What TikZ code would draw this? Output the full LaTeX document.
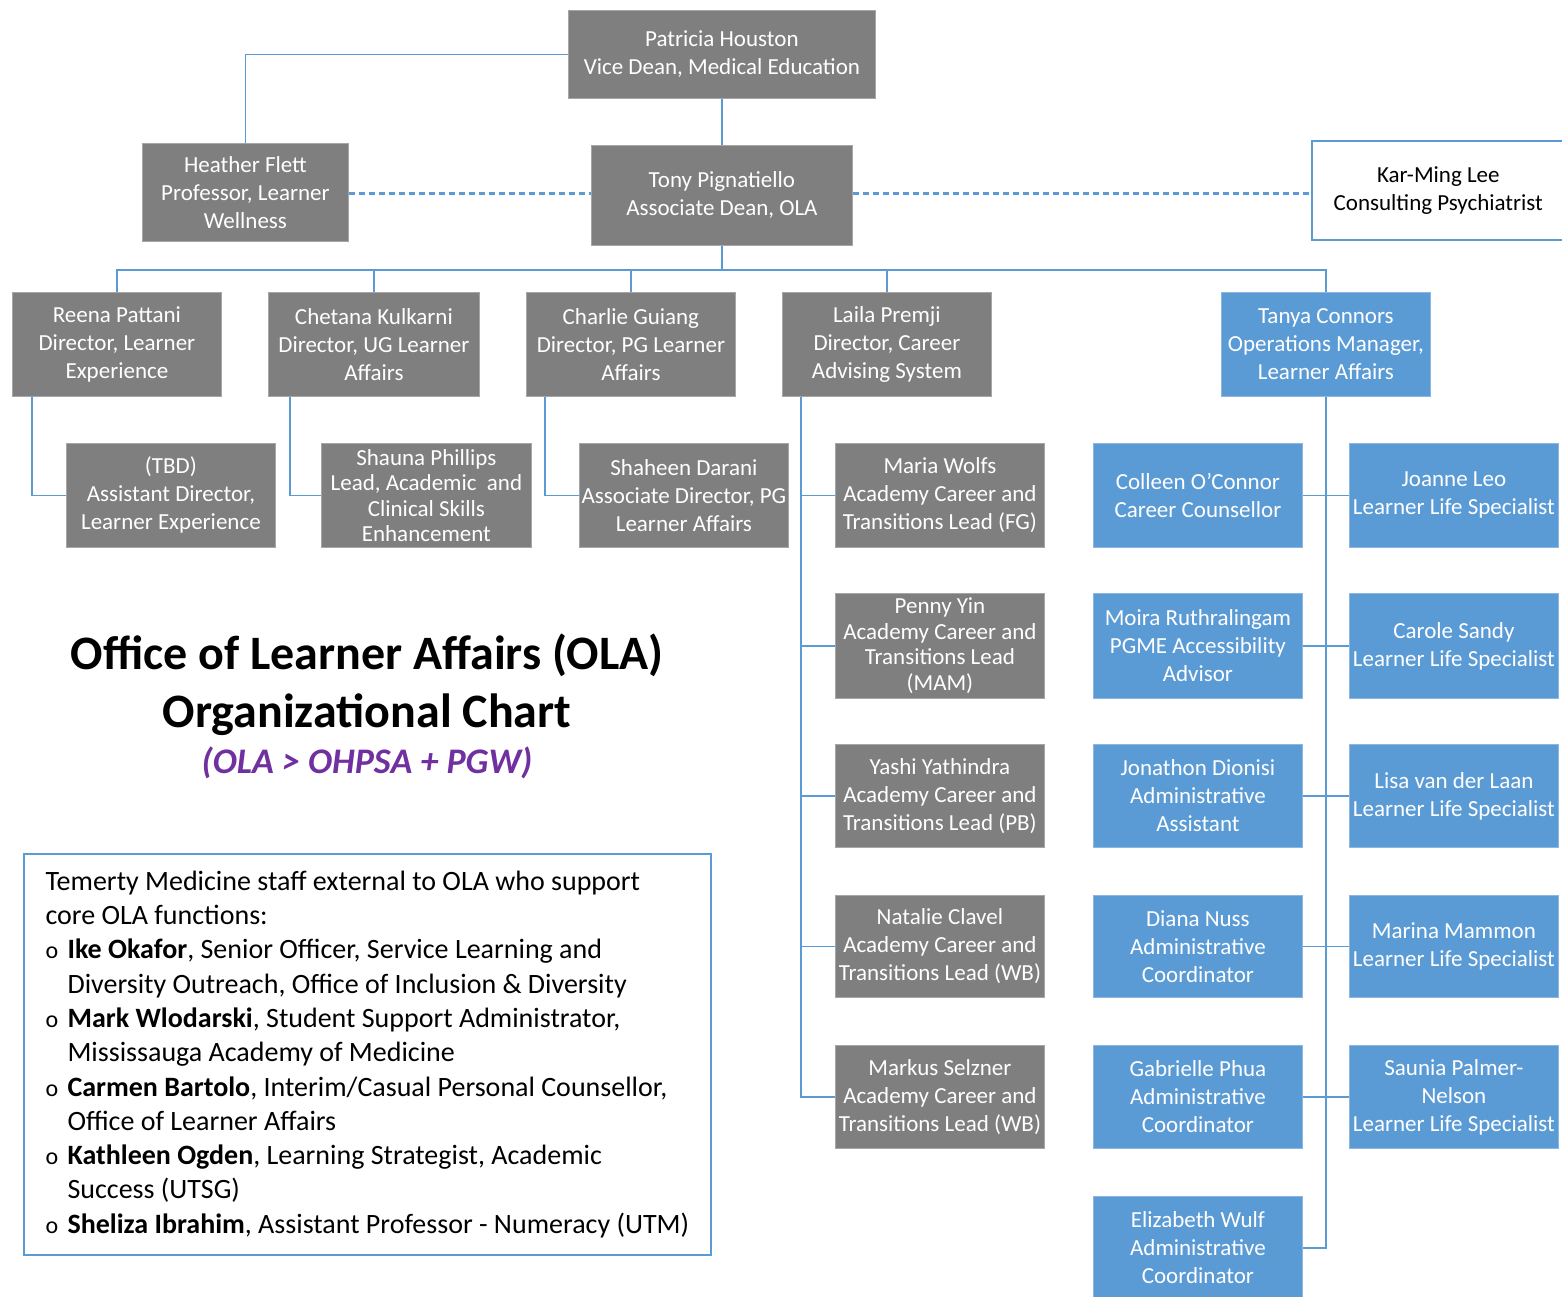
\documentclass[tikz,border=0pt]{standalone}
\usepackage{fontspec}
\setmainfont{Carlito}
\usetikzlibrary{calc}
\definecolor{gfill}{HTML}{7F7F7F}
\definecolor{gline}{HTML}{A6A6A6}
\definecolor{bfill}{HTML}{5B9BD5}
\definecolor{bline}{HTML}{8DB6E0}
\definecolor{conn}{HTML}{5B9BD5}
\definecolor{purp}{HTML}{7030A0}
\newcommand\bxfont{\fontsize{23}{28}\selectfont}
\newcommand\bxfontt{\fontsize{23}{25.5}\selectfont}
\newcommand\bul{\makebox[22pt][l]{\fontsize{24}{24}\selectfont o}}
\newcommand\ind{\hspace*{22pt}}
\begin{document}
\begin{tikzpicture}[x=1pt,y=-1pt,
  box/.style={anchor=north west, inner sep=0pt, align=center, font=\bxfont,
     minimum width=209pt, minimum height=104pt, line width=0.8pt},
  gbox/.style={box, fill=gfill, draw=gline, text=white},
  bbox/.style={box, fill=bfill, draw=bline, text=white},
  link/.style={draw=conn, line width=1.8pt},
  dlink/.style={draw=conn, line width=2.2pt, dash pattern=on 6pt off 4pt}]
\useasboundingbox (0,0) rectangle (1562,1296);

% top
\node[gbox, minimum width=307pt, minimum height=88pt] (patricia) at (568,10) {Patricia Houston\\Vice Dean, Medical Education};
\node[gbox, minimum width=206pt, minimum height=98pt] (heather) at (142,143) {Heather Flett\\Professor, Learner\\Wellness};
\node[gbox, minimum width=261pt, minimum height=100pt] (tony) at (591,145) {Tony Pignatiello\\Associate Dean, OLA};
\node[box, fill=white, draw=conn, line width=1.6pt, text=black, minimum width=253pt, minimum height=99pt] (karming) at (1311,140) {Kar-Ming Lee\\Consulting Psychiatrist};

% row 2
\node[gbox] (reena) at (12,292) {Reena Pattani\\Director, Learner\\Experience};
\node[gbox, minimum width=211pt] (chetana) at (268,292) {Chetana Kulkarni\\Director, UG Learner\\Affairs};
\node[gbox] (charlie) at (526,292) {Charlie Guiang\\Director, PG Learner\\Affairs};
\node[gbox] (laila) at (782,292) {Laila Premji\\Director, Career\\Advising System};
\node[bbox] (tanya) at (1221,292) {Tanya Connors\\Operations Manager,\\Learner Affairs};

% row 3 left
\node[gbox] (tbd) at (66,443) {(TBD)\\Assistant Director,\\Learner Experience};
\node[gbox, minimum width=210pt, font=\bxfontt] (shauna) at (321,443) {Shauna Phillips\\Lead, Academic\ \ and\\Clinical Skills\\Enhancement};
\node[gbox] (shaheen) at (579,443) {Shaheen Darani\\Associate Director, PG\\Learner Affairs};

% Laila children
\node[gbox] (maria) at (835,443) {Maria Wolfs\\Academy Career and\\Transitions Lead (FG)};
\node[gbox, minimum height=105pt, font=\bxfontt] (penny) at (835,593) {Penny Yin\\Academy Career and\\Transitions Lead\\(MAM)};
\node[gbox, minimum height=103pt] (yashi) at (835,744) {Yashi Yathindra\\Academy Career and\\Transitions Lead (PB)};
\node[gbox, minimum height=102pt] (natalie) at (835,895) {Natalie Clavel\\Academy Career and\\Transitions Lead (WB)};
\node[gbox, minimum height=103pt] (markus) at (835,1045) {Markus Selzner\\Academy Career and\\Transitions Lead (WB)};

% Tanya children
\node[bbox] (colleen) at (1093,443) {Colleen O'Connor\\Career Counsellor};
\node[bbox] (joanne) at (1349,443) {Joanne Leo\\Learner Life Specialist};
\node[bbox, minimum height=105pt] (moira) at (1093,593) {Moira Ruthralingam\\PGME Accessibility\\Advisor};
\node[bbox, minimum height=105pt] (carole) at (1349,593) {Carole Sandy\\Learner Life Specialist};
\node[bbox, minimum height=103pt] (jonathon) at (1093,744) {Jonathon Dionisi\\Administrative\\Assistant};
\node[bbox, minimum height=103pt] (lisa) at (1349,744) {Lisa van der Laan\\Learner Life Specialist};
\node[bbox, minimum height=102pt] (diana) at (1093,895) {Diana Nuss\\Administrative\\Coordinator};
\node[bbox, minimum height=102pt] (marina) at (1349,895) {Marina Mammon\\Learner Life Specialist};
\node[bbox, minimum height=103pt] (gabrielle) at (1093,1045) {Gabrielle Phua\\Administrative\\Coordinator};
\node[bbox, minimum height=103pt] (saunia) at (1349,1045) {Saunia Palmer-\\Nelson\\Learner Life Specialist};
\node[bbox, minimum height=103pt] (elizabeth) at (1093,1196) {Elizabeth Wulf\\Administrative\\Coordinator};

% connectors top
\draw[link] (patricia.west) -| (heather.north);
\draw[link] (patricia.south) -- (tony.north);
\coordinate (dl) at ($(tony.west)+(0,-2)$);
\coordinate (dr) at ($(tony.east)+(0,-2)$);
\draw[dlink] (heather.east |- dl) -- (dl);
\draw[dlink] (dr) -- (karming.west |- dr);
\coordinate (bus) at ($(tony.south)+(0,24)$);
\draw[link] (tony.south) -- (bus);
\draw[link] (bus) -| (reena.north);
\draw[link] (bus) -| (chetana.north);
\draw[link] (bus) -| (charlie.north);
\draw[link] (bus) -| (laila.north);
\draw[link] (bus) -| (tanya.north);

% row 3 connectors
\draw[link] ([xshift=20pt]reena.south west) |- (tbd.west);
\draw[link] ([xshift=22pt]chetana.south west) |- (shauna.west);
\draw[link] ([xshift=19pt]charlie.south west) |- (shaheen.west);
\foreach \c in {maria,penny,yashi,natalie,markus}
  \draw[link] ([xshift=19pt]laila.south west) |- (\c.west);

% Tanya connectors
\draw[link] (tanya.south) |- (elizabeth.east);
\draw[link] (colleen.east) -- (joanne.west);
\draw[link] (moira.east) -- (carole.west);
\draw[link] (jonathon.east) -- (lisa.west);
\draw[link] (diana.east) -- (marina.west);
\draw[link] (gabrielle.east) -- (saunia.west);

% title
\node[align=center, font=\fontsize{48}{58}\selectfont\bfseries] (title) at (367,685) {Office of Learner Affairs (OLA)\\Organizational Chart};
\node[font=\fontsize{36}{40}\selectfont\bfseries\itshape, text=purp] (subtitle) at (367,763) {(OLA > OHPSA + PGW)};

% external staff box
\node[anchor=north west, draw=conn, line width=1.6pt, minimum width=687pt, minimum height=401pt, inner sep=0pt, align=left, font=\fontsize{28}{34.3}\selectfont] (extbox) at (23,853) {Temerty Medicine staff external to OLA who support\\
core OLA functions:\\
\bul\textbf{Ike Okafor}, Senior Officer, Service Learning and\\
\ind Diversity Outreach, Office of Inclusion \& Diversity\\
\bul\textbf{Mark Wlodarski}, Student Support Administrator,\\
\ind Mississauga Academy of Medicine\\
\bul\textbf{Carmen Bartolo}, Interim/Casual Personal Counsellor,\\
\ind Office of Learner Affairs\\
\bul\textbf{Kathleen Ogden}, Learning Strategist, Academic\\
\ind Success (UTSG)\\
\bul\textbf{Sheliza Ibrahim}, Assistant Professor - Numeracy (UTM)};
\end{tikzpicture}
\end{document}
